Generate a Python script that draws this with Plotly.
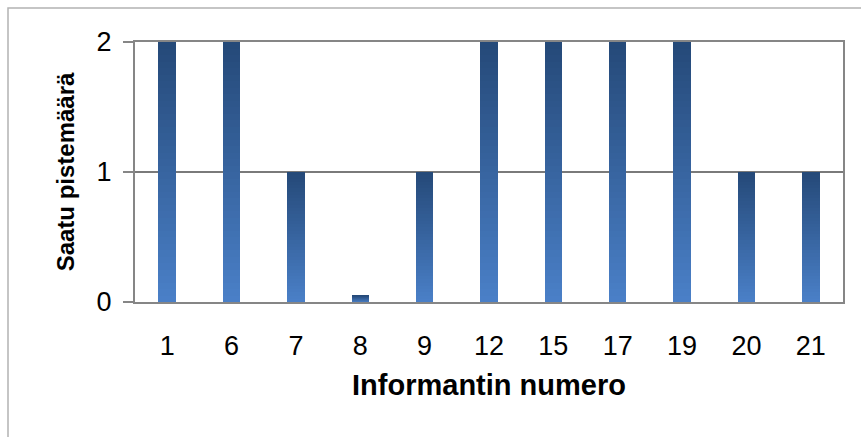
import plotly.graph_objects as go

# Informant numbers and the points each received
informants = ["1", "6", "7", "8", "9", "12", "15", "17", "19", "20", "21"]
points = [2, 2, 1, 0.05, 1, 2, 2, 2, 2, 1, 1]

y_ticks = [0, 1, 2]
x_title = "Informantin numero"
y_title = "Saatu pistemäärä"

W, H = 861, 437
M_L, M_R, M_T, M_B = 135, 18, 42, 135

# vertical gradient: light blue at the base, dark navy at the top of every bar
BOTTOM = (74, 128, 200)
TOP = (37, 73, 120)
N_SLICES = 40


def mix(t):
    r = round(BOTTOM[0] + (TOP[0] - BOTTOM[0]) * t)
    g = round(BOTTOM[1] + (TOP[1] - BOTTOM[1]) * t)
    b = round(BOTTOM[2] + (TOP[2] - BOTTOM[2]) * t)
    return f"rgb({r},{g},{b})"


fig = go.Figure()
for i in range(N_SLICES):
    fig.add_trace(go.Bar(
        x=informants,
        y=[v / N_SLICES for v in points],
        marker=dict(color=mix((i + 0.5) / N_SLICES), line=dict(width=0)),
        width=0.27,
        showlegend=False,
        hoverinfo="skip",
    ))

FONT = "Liberation Sans, Arial, sans-serif"
AXIS_GRAY = "#868686"

# light outer frame around the chart (only left and top edges fall inside the view)
pw = W - M_L - M_R
ph = H - M_T - M_B
def px_x(p):
    return (p - M_L) / pw
def px_y(p):
    return (H - M_B - p) / ph

fig.add_shape(type="rect", xref="paper", yref="paper",
              x0=px_x(8), x1=px_x(W + 20), y0=px_y(8), y1=px_y(H + 20),
              line=dict(color="#b3b3b3", width=1.5), fillcolor="rgba(0,0,0,0)",
              layer="below")

fig.update_layout(
    width=W, height=H,
    margin=dict(l=M_L, r=M_R, t=M_T, b=M_B),
    barmode="stack",
    bargap=0.73,
    plot_bgcolor="white",
    paper_bgcolor="white",
    font=dict(family=FONT, color="black"),
    xaxis=dict(
        type="category",
        showline=True, linecolor=AXIS_GRAY, linewidth=2, mirror=True,
        showgrid=False, ticks="",
        tickfont=dict(size=27, family=FONT),
        ticklabelstandoff=19,
        title=dict(text=x_title, font=dict(size=29, family=FONT, weight="bold"), standoff=14),
    ),
    yaxis=dict(
        range=[0, 2],
        tickvals=y_ticks,
        showline=True, linecolor=AXIS_GRAY, linewidth=2, mirror=True,
        showgrid=True, gridcolor="#7a7a7a", gridwidth=1.5,
        zeroline=False,
        ticks="outside", ticklen=10, tickcolor=AXIS_GRAY, tickwidth=1.5,
        tickfont=dict(size=27, family=FONT),
        ticklabelstandoff=6,
        title=dict(text=y_title, font=dict(size=24, family=FONT, weight="bold"), standoff=15),
    ),
)

fig.write_html("out.html")
